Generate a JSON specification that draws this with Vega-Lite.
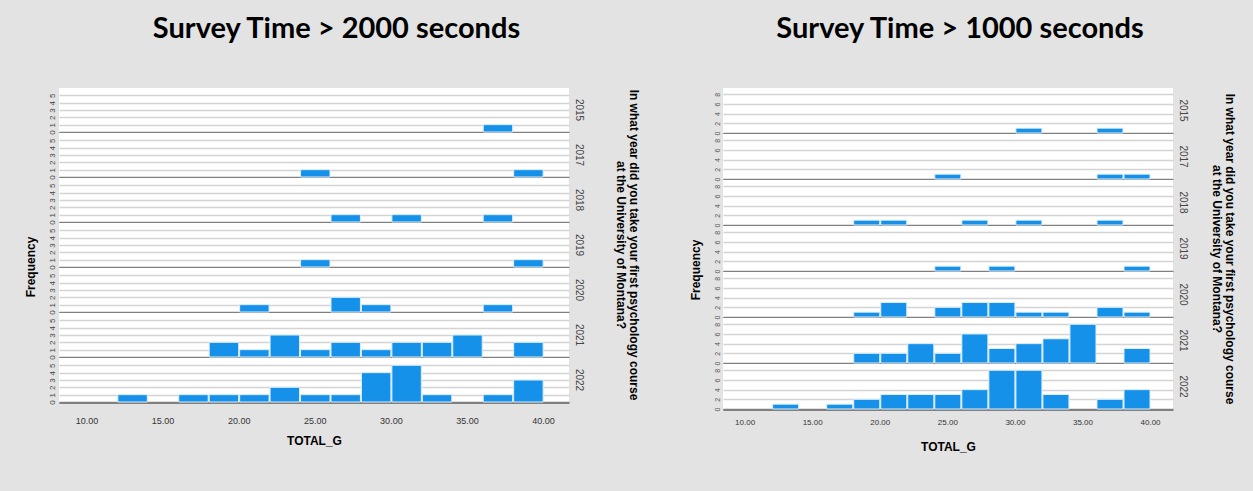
{
  "$schema": "https://vega.github.io/schema/vega-lite/v6.json",
  "background": "#e3e3e3",
  "padding": {"left": 25, "top": 15, "right": 20, "bottom": 45},
  "datasets": {
    "d2000": [
      {"year": "2015", "lo": 36, "hi": 38, "count": 1},
      {"year": "2017", "lo": 24, "hi": 26, "count": 1},
      {"year": "2017", "lo": 38, "hi": 40, "count": 1},
      {"year": "2018", "lo": 26, "hi": 28, "count": 1},
      {"year": "2018", "lo": 30, "hi": 32, "count": 1},
      {"year": "2018", "lo": 36, "hi": 38, "count": 1},
      {"year": "2019", "lo": 24, "hi": 26, "count": 1},
      {"year": "2019", "lo": 38, "hi": 40, "count": 1},
      {"year": "2020", "lo": 20, "hi": 22, "count": 1},
      {"year": "2020", "lo": 26, "hi": 28, "count": 2},
      {"year": "2020", "lo": 28, "hi": 30, "count": 1},
      {"year": "2020", "lo": 36, "hi": 38, "count": 1},
      {"year": "2021", "lo": 18, "hi": 20, "count": 2},
      {"year": "2021", "lo": 20, "hi": 22, "count": 1},
      {"year": "2021", "lo": 22, "hi": 24, "count": 3},
      {"year": "2021", "lo": 24, "hi": 26, "count": 1},
      {"year": "2021", "lo": 26, "hi": 28, "count": 2},
      {"year": "2021", "lo": 28, "hi": 30, "count": 1},
      {"year": "2021", "lo": 30, "hi": 32, "count": 2},
      {"year": "2021", "lo": 32, "hi": 34, "count": 2},
      {"year": "2021", "lo": 34, "hi": 36, "count": 3},
      {"year": "2021", "lo": 38, "hi": 40, "count": 2},
      {"year": "2022", "lo": 12, "hi": 14, "count": 1},
      {"year": "2022", "lo": 16, "hi": 18, "count": 1},
      {"year": "2022", "lo": 18, "hi": 20, "count": 1},
      {"year": "2022", "lo": 20, "hi": 22, "count": 1},
      {"year": "2022", "lo": 22, "hi": 24, "count": 2},
      {"year": "2022", "lo": 24, "hi": 26, "count": 1},
      {"year": "2022", "lo": 26, "hi": 28, "count": 1},
      {"year": "2022", "lo": 28, "hi": 30, "count": 4},
      {"year": "2022", "lo": 30, "hi": 32, "count": 5},
      {"year": "2022", "lo": 32, "hi": 34, "count": 1},
      {"year": "2022", "lo": 36, "hi": 38, "count": 1},
      {"year": "2022", "lo": 38, "hi": 40, "count": 3}
    ],
    "d1000": [
      {"year": "2015", "lo": 30, "hi": 32, "count": 1},
      {"year": "2015", "lo": 36, "hi": 38, "count": 1},
      {"year": "2017", "lo": 24, "hi": 26, "count": 1},
      {"year": "2017", "lo": 36, "hi": 38, "count": 1},
      {"year": "2017", "lo": 38, "hi": 40, "count": 1},
      {"year": "2018", "lo": 18, "hi": 20, "count": 1},
      {"year": "2018", "lo": 20, "hi": 22, "count": 1},
      {"year": "2018", "lo": 26, "hi": 28, "count": 1},
      {"year": "2018", "lo": 30, "hi": 32, "count": 1},
      {"year": "2018", "lo": 36, "hi": 38, "count": 1},
      {"year": "2019", "lo": 24, "hi": 26, "count": 1},
      {"year": "2019", "lo": 28, "hi": 30, "count": 1},
      {"year": "2019", "lo": 38, "hi": 40, "count": 1},
      {"year": "2020", "lo": 18, "hi": 20, "count": 1},
      {"year": "2020", "lo": 20, "hi": 22, "count": 3},
      {"year": "2020", "lo": 24, "hi": 26, "count": 2},
      {"year": "2020", "lo": 26, "hi": 28, "count": 3},
      {"year": "2020", "lo": 28, "hi": 30, "count": 3},
      {"year": "2020", "lo": 30, "hi": 32, "count": 1},
      {"year": "2020", "lo": 32, "hi": 34, "count": 1},
      {"year": "2020", "lo": 36, "hi": 38, "count": 2},
      {"year": "2020", "lo": 38, "hi": 40, "count": 1},
      {"year": "2021", "lo": 18, "hi": 20, "count": 2},
      {"year": "2021", "lo": 20, "hi": 22, "count": 2},
      {"year": "2021", "lo": 22, "hi": 24, "count": 4},
      {"year": "2021", "lo": 24, "hi": 26, "count": 2},
      {"year": "2021", "lo": 26, "hi": 28, "count": 6},
      {"year": "2021", "lo": 28, "hi": 30, "count": 3},
      {"year": "2021", "lo": 30, "hi": 32, "count": 4},
      {"year": "2021", "lo": 32, "hi": 34, "count": 5},
      {"year": "2021", "lo": 34, "hi": 36, "count": 8},
      {"year": "2021", "lo": 38, "hi": 40, "count": 3},
      {"year": "2022", "lo": 12, "hi": 14, "count": 1},
      {"year": "2022", "lo": 16, "hi": 18, "count": 1},
      {"year": "2022", "lo": 18, "hi": 20, "count": 2},
      {"year": "2022", "lo": 20, "hi": 22, "count": 3},
      {"year": "2022", "lo": 22, "hi": 24, "count": 3},
      {"year": "2022", "lo": 24, "hi": 26, "count": 3},
      {"year": "2022", "lo": 26, "hi": 28, "count": 4},
      {"year": "2022", "lo": 28, "hi": 30, "count": 8},
      {"year": "2022", "lo": 30, "hi": 32, "count": 8},
      {"year": "2022", "lo": 32, "hi": 34, "count": 3},
      {"year": "2022", "lo": 36, "hi": 38, "count": 2},
      {"year": "2022", "lo": 38, "hi": 40, "count": 4}
    ]
  },
  "config": {
    "view": {"stroke": null, "fill": "white"},
    "font": "Liberation Sans",
    "header": {
      "labelAngle": 90,
      "labelOrient": "right",
      "labelFontSize": 10,
      "labelColor": "#444",
      "labelPadding": 5,
      "titleOrient": "right",
      "titleAngle": 90,
      "titleFontSize": 12,
      "titleFontWeight": "bold",
      "titleColor": "black",
      "titleLineHeight": 13
    }
  },
  "spacing": 50,
  "hconcat": [
    {
      "title": {"text": "Survey Time > 2000 seconds", "font": "Lato", "fontSize": 29, "fontWeight": "bold", "color": "black", "anchor": "middle", "offset": 44, "dx": 4},
      "vconcat": [
        {
          "data": {"name": "d2000"},
          "title": {"text": "Frequency", "orient": "left", "anchor": "middle", "fontSize": 12, "fontWeight": "bold", "color": "black", "offset": 10},
          "facet": {"row": {"field": "year", "type": "ordinal", "title": ["In what year did you take your first psychology course", "at the University of Montana?"], "header": {"titlePadding": 20}}},
          "spacing": {"row": 0},
          "spec": {
            "width": 510,
            "height": 44,
            "mark": {"type": "bar", "color": "#1591ea", "stroke": "#dbeefc", "strokeWidth": 1},
            "encoding": {
              "x": {"field": "lo", "type": "quantitative", "bin": "binned",
                    "scale": {"domain": [8.2, 41.7], "nice": false, "zero": false},
                    "axis": {"values": [10, 15, 20, 25, 30, 35, 40], "format": ".2f", "grid": false, "ticks": false, "labelPadding": 13, "labelFontSize": 9, "labelColor": "#333", "domainColor": "#808080", "title": "TOTAL_G", "titleFontSize": 12, "titleFontWeight": "bold", "titleColor": "black", "titlePadding": 10}},
              "x2": {"field": "hi"},
              "y": {"field": "count", "type": "quantitative",
                    "scale": {"domain": [0, 6], "nice": false},
                    "axis": {"values": [0, 1, 2, 3, 4, 5], "labelAngle": -90, "labelFontSize": 8, "labelColor": "#444", "ticks": false, "labelPadding": 3, "domainColor": "#808080",
                             "gridColor": {"condition": {"test": "datum.value === 0", "value": "#808080"}, "value": "#d4d4d4"}, "gridWidth": 1.5,
                             "title": null}}
            }
          }
        }
      ]
    },
    {
      "title": {"text": "Survey Time > 1000 seconds", "font": "Lato", "fontSize": 29, "fontWeight": "bold", "color": "black", "anchor": "middle", "offset": 44, "dx": -3},
      "vconcat": [
        {
          "data": {"name": "d1000"},
          "title": {"text": "Frequency", "orient": "left", "anchor": "middle", "fontSize": 12, "fontWeight": "bold", "color": "black", "offset": 10},
          "facet": {"row": {"field": "year", "type": "ordinal", "title": ["In what year did you take your first psychology course", "at the University of Montana?"], "header": {"titlePadding": 12}}},
          "spacing": {"row": 0},
          "spec": {
            "width": 450,
            "height": 45,
            "mark": {"type": "bar", "color": "#1591ea", "stroke": "#dbeefc", "strokeWidth": 1},
            "encoding": {
              "x": {"field": "lo", "type": "quantitative", "bin": "binned",
                    "scale": {"domain": [8.4, 41.7], "nice": false, "zero": false},
                    "axis": {"values": [10, 15, 20, 25, 30, 35, 40], "format": ".2f", "grid": false, "ticks": false, "labelPadding": 8, "labelFontSize": 8, "labelColor": "#333", "domainColor": "#808080", "title": "TOTAL_G", "titleFontSize": 12, "titleFontWeight": "bold", "titleColor": "black", "titlePadding": 15}},
              "x2": {"field": "hi"},
              "y": {"field": "count", "type": "quantitative",
                    "scale": {"domain": [0, 9.3], "nice": false},
                    "axis": {"values": [0, 2, 4, 6, 8], "labelAngle": -90, "labelFontSize": 7, "labelColor": "#555", "ticks": false, "labelPadding": 3, "domainColor": "#808080",
                             "gridColor": {"condition": {"test": "datum.value === 0", "value": "#808080"}, "value": "#d4d4d4"}, "gridWidth": 1.5,
                             "title": null}}
            }
          }
        }
      ]
    }
  ]
}
